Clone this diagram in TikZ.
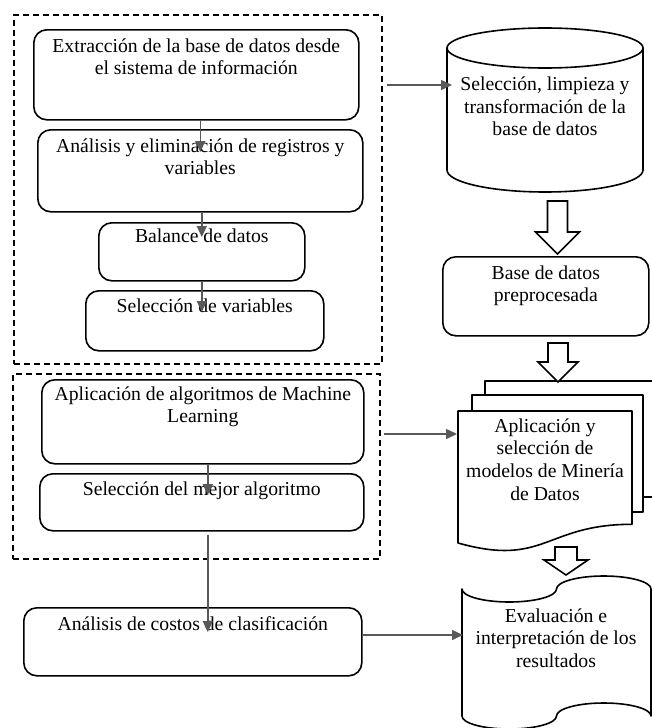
\documentclass[tikz,border=0pt]{standalone}
\usepackage{fontspec}
\setmainfont{Liberation Serif}
\usepackage{xcolor}
\definecolor{LinkGray}{HTML}{595959}
\usetikzlibrary{arrows.meta, calc, positioning}

\begin{document}
\begin{tikzpicture}[x=1pt, y=-1pt,
  box/.style={draw, rounded corners=13pt, line width=1.6pt, anchor=north west, inner sep=0pt},
  grp/.style={draw, dash pattern=on 6pt off 4pt, line width=1.5pt, anchor=north west, inner sep=0pt},
  txt/.style={font=\fontsize{19.7}{22.7}\selectfont, align=center, anchor=base, inner sep=0pt},
  link/.style={-{Triangle[length=11pt, width=10pt]}, draw=LinkGray, line width=1.5pt},
  outline/.style={draw, line width=1.6pt, line join=round},
  blockarrow/.style={draw, line width=1.6pt, fill=white},
]
\useasboundingbox (0,0) rectangle (652,728);

%% -- Groups (dashed) --------------------------------------------
\node[grp, minimum width=368pt, minimum height=349pt] (g1) at (13,14) {};
\node[grp, minimum width=367pt, minimum height=185pt] (g2) at (12,373) {};

%% -- Left column steps -------------------------------------------
\node[box, minimum width=325pt, minimum height=90pt] (A) at (33,29) {};
\node[box, minimum width=325pt, minimum height=82pt] (B) at (37,129) {};
\node[box, minimum width=206pt, minimum height=58pt] (C) at (98,222) {};
\node[box, minimum width=238pt, minimum height=60pt] (D) at (85,290) {};
\node[box, minimum width=322pt, minimum height=84pt] (F) at (41,379) {};
\node[box, minimum width=324pt, minimum height=57pt] (G) at (39,473) {};
\node[box, minimum width=338pt, minimum height=68pt] (H) at (23,607) {};

% base of a multi-line text = its last line
\node[txt] (tA) at ($(A.north)+(0,45.7)$) {Extracción de la base de datos desde\\el sistema de información};
\node[txt] (tB) at ($(B.north)+(0,45.7)$) {Análisis y eliminación de registros y\\variables};
\node[txt] (tC) at ($(C.north)+(0,20)$) {Balance de datos};
\node[txt] (tD) at ($(D.north)+(0,22)$) {Selección de variables};
\node[txt] (tF) at ($(F.north)+(0,43.7)$) {Aplicación de algoritmos de Machine\\Learning};
\node[txt] (tG) at ($(G.north)+(0,22)$) {Selección del mejor algoritmo};
\node[txt] (tH) at ($(H.north)+(0,23)$) {Análisis de costos de clasificación};

%% -- Right column ------------------------------------------------
% database cylinder
\draw[outline] (447,48) -- (447,170)
  .. controls (447,182.2) and (490.9,192) .. (545,192)
  .. controls (599.1,192) and (643,182.2) .. (643,170) -- (643,48);
\draw[outline] (545,48) ellipse [x radius=98pt, y radius=20pt];
\node[txt] (tCyl) at (545,135.9) {Selección, limpieza y\\transformación de la\\base de datos};

\node[box, minimum width=206pt, minimum height=79pt] (E) at (442,256) {};
\node[txt] (tE) at ($(E.north)+(0,45.7)$) {Base de datos\\preprocesada};

% multi-document
\draw[outline] (485,395) -- (485,381) -- (660,381) -- (660,497) -- (643,497);
\draw[outline] (472,411) -- (472,395) -- (643,395) -- (643,512) -- (632,512);
\draw[outline] (458,411) -- (632,411) -- (632,524.3)
  .. controls (545,524.3) and (545,567.4) .. (458,543) -- cycle;
\node[txt] (tDoc) at (545,500.1) {Aplicación y\\selección de\\modelos de Minería\\de Datos};

% punched tape
\draw[outline] (462,589)
  .. controls (462,596.2) and (483.2,602) .. (509.25,602)
  .. controls (535.3,602) and (556.5,596.2) .. (556.5,589)
  .. controls (556.5,581.8) and (577.6,576) .. (603.75,576)
  .. controls (629.8,576) and (651,581.8) .. (651,589)
  -- (651,716)
  .. controls (651,708.8) and (629.8,703) .. (603.75,703)
  .. controls (577.6,703) and (556.5,708.8) .. (556.5,716)
  .. controls (556.5,723.2) and (535.3,729) .. (509.25,729)
  .. controls (483.2,729) and (462,723.2) .. (462,716) -- cycle;
\node[txt] (tTape) at (556,667.4) {Evaluación e\\interpretación de los\\resultados};

% block arrows
\draw[blockarrow] (547.5,201) -- (567.5,201) -- (567.5,232) -- (579.5,232)
  -- (557.5,254) -- (535.5,232) -- (547.5,232) -- cycle;
\draw[blockarrow] (548,343) -- (568,343) -- (568,362) -- (578,362)
  -- (558,382) -- (538,362) -- (548,362) -- cycle;
\draw[blockarrow] (555,547) -- (577,547) -- (577,560) -- (588,560)
  -- (566,575) -- (544,560) -- (555,560) -- cycle;

%% -- Links -------------------------------------------------------
\draw[link] (A.south -| B.north) -- ($(B.north)+(0,23)$);
\draw[link] (B.south -| C.north) -- ($(C.north)+(0,15)$);
\draw[link] (C.south) -- ($(C.south |- D.north)+(0,22)$);
\draw[link] ($(F.south)+(5,0)$) -- ($(F.south |- G.north)+(5,22)$);
\draw[link] ($(G.south)+(6,3)$) -- ($(G.south |- H.north)+(6,25)$);

\coordinate (cylIn) at (452,85);
\coordinate (docIn) at (457,434);
\coordinate (tapeIn) at (463,635);
\draw[link, shorten <=4pt] (g1.east |- cylIn) -- (cylIn);
\draw[link, shorten <=3pt] (g2.east |- docIn) -- (docIn);
\draw[link] (H.east |- tapeIn) -- (tapeIn);

\end{tikzpicture}
\end{document}
